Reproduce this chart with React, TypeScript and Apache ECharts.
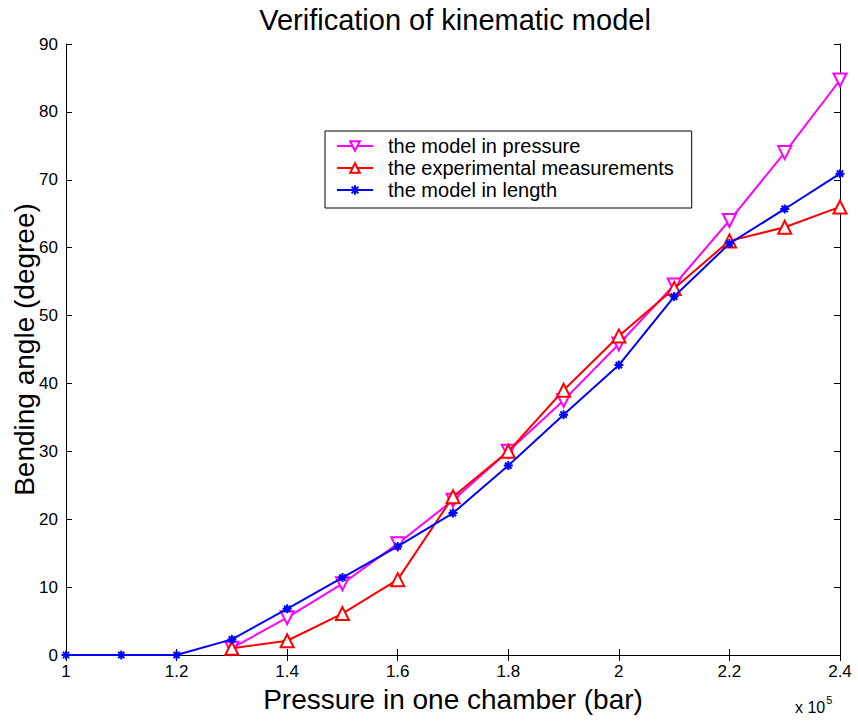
import React, { useEffect, useRef } from "react";
import * as echarts from "echarts";

const xValues = [1.0, 1.1, 1.2, 1.3, 1.4, 1.5, 1.6, 1.7, 1.8, 1.9, 2.0, 2.1, 2.2, 2.3, 2.4];
const modelPressure = [null, null, null, 1.0, 5.5, 10.5, 16.4, 22.8, 30.0, 37.5, 45.8, 54.5, 64.0, 74.0, 84.7];
const experimental = [null, null, null, 1.0, 2.1, 6.1, 11.1, 23.3, 30.0, 39.0, 47.0, 54.0, 61.0, 63.0, 66.0];
const modelLength = [0, 0, 0, 2.3, 6.8, 11.4, 16.0, 20.9, 27.9, 35.4, 42.7, 52.8, 60.6, 65.7, 70.9];
const seriesNames = ["the model in pressure", "the experimental measurements", "the model in length"];
const FONT = "Liberation Sans, Arial, sans-serif";

const toPairs = (ys: (number | null)[]) =>
  xValues.map((x, i) => (ys[i] == null ? null : [x, ys[i]])).filter((p) => p !== null);

const starPath = "path://M5,0L5,10M0,5L10,5M1.5,1.5L8.5,8.5M8.5,1.5L1.5,8.5";

export default function App() {
  const ref = useRef<HTMLDivElement>(null);
  useEffect(() => {
    const chart = echarts.init(ref.current!, null, { renderer: "svg" });
    const tickStyle = { inside: true, length: 6, lineStyle: { color: "#000", width: 1 } };
    chart.setOption({
      animation: false,
      backgroundColor: "#fff",
      title: {
        text: "Verification of kinematic model",
        left: 450,
        textAlign: "center",
        top: 0,
        textStyle: { fontFamily: FONT, fontSize: 29, fontWeight: "normal", color: "#000" },
      },
      legend: {
        data: seriesNames,
        orient: "vertical",
        left: 325,
        top: 131,
        borderColor: "#000",
        borderWidth: 1,
        padding: [5, 18, 8, 11],
        itemGap: 2,
        itemWidth: 36,
        itemHeight: 12,
        backgroundColor: "#fff",
        textStyle: {
          fontFamily: FONT,
          fontSize: 20,
          lineHeight: 20,
          color: "#000",
          padding: [0, 0, 0, 10],
        },
      },
      grid: { left: 66, right: 18, top: 44, bottom: 67, outerBoundsMode: "none", containLabel: false },
      xAxis: [
        {
          type: "value",
          min: 1,
          max: 2.4,
          interval: 0.2,
          name: "Pressure in one chamber (bar)",
          nameLocation: "middle",
          nameGap: 30,
          nameMoveOverlap: false,
          nameTextStyle: { fontFamily: FONT, fontSize: 28, color: "#000" },
          axisLine: { lineStyle: { color: "#000", width: 1 } },
          axisTick: tickStyle,
          axisLabel: {
            fontFamily: FONT,
            fontSize: 17,
            color: "#000",
            margin: 8,
            formatter: (v: number) => String(+v.toFixed(1)),
          },
          splitLine: { show: false },
        },
        {
          type: "value",
          position: "top",
          min: 1,
          max: 2.4,
          interval: 0.2,
          axisLine: { show: true, lineStyle: { color: "#000", width: 1 } },
          axisTick: tickStyle,
          axisLabel: { show: false },
          splitLine: { show: false },
        },
      ],
      yAxis: [
        {
          type: "value",
          min: 0,
          max: 90,
          interval: 10,
          name: "Bending angle (degree)",
          nameLocation: "middle",
          nameGap: 28,
          nameMoveOverlap: false,
          nameTextStyle: { fontFamily: FONT, fontSize: 28, color: "#000" },
          axisLine: { show: true, lineStyle: { color: "#000", width: 1 } },
          axisTick: tickStyle,
          axisLabel: { fontFamily: FONT, fontSize: 17, color: "#000", margin: 8 },
          splitLine: { show: false },
        },
        {
          type: "value",
          position: "right",
          min: 0,
          max: 90,
          interval: 10,
          axisLine: { show: true, lineStyle: { color: "#000", width: 1 } },
          axisTick: tickStyle,
          axisLabel: { show: false },
          splitLine: { show: false },
        },
      ],
      graphic: [
        {
          type: "text",
          left: 795,
          top: 694,
          style: {
            text: "{a|x 10}{b|5}",
            rich: {
              a: { fontFamily: FONT, fontSize: 16, fill: "#000", verticalAlign: "bottom" },
              b: { fontFamily: FONT, fontSize: 11, fill: "#000", verticalAlign: "top", padding: [0, 0, 10, 1] },
            },
          },
        },
      ],
      series: [
        {
          name: seriesNames[0],
          type: "line",
          data: toPairs(modelPressure),
          symbol: "triangle",
          symbolRotate: 180,
          symbolSize: 13,
          showAllSymbol: true,
          lineStyle: { color: "#ff00ff", width: 2 },
          itemStyle: { color: "#fff", borderColor: "#ff00ff", borderWidth: 2 },
          z: 2,
        },
        {
          name: seriesNames[1],
          type: "line",
          data: toPairs(experimental),
          symbol: "triangle",
          symbolSize: 13,
          showAllSymbol: true,
          lineStyle: { color: "#ff0000", width: 2 },
          itemStyle: { color: "#fff", borderColor: "#ff0000", borderWidth: 2 },
          z: 3,
        },
        {
          name: seriesNames[2],
          type: "line",
          data: toPairs(modelLength),
          symbol: starPath,
          symbolSize: 9,
          showAllSymbol: true,
          lineStyle: { color: "#0000ff", width: 2 },
          itemStyle: { color: "#0000ff", borderColor: "#0000ff", borderWidth: 2 },
          z: 4,
        },
      ],
    });
    return () => chart.dispose();
  }, []);
  return (
    <div
      ref={ref}
      style={{ position: "fixed", left: 0, top: 0, width: 858, height: 722, background: "#fff" }}
    />
  );
}
